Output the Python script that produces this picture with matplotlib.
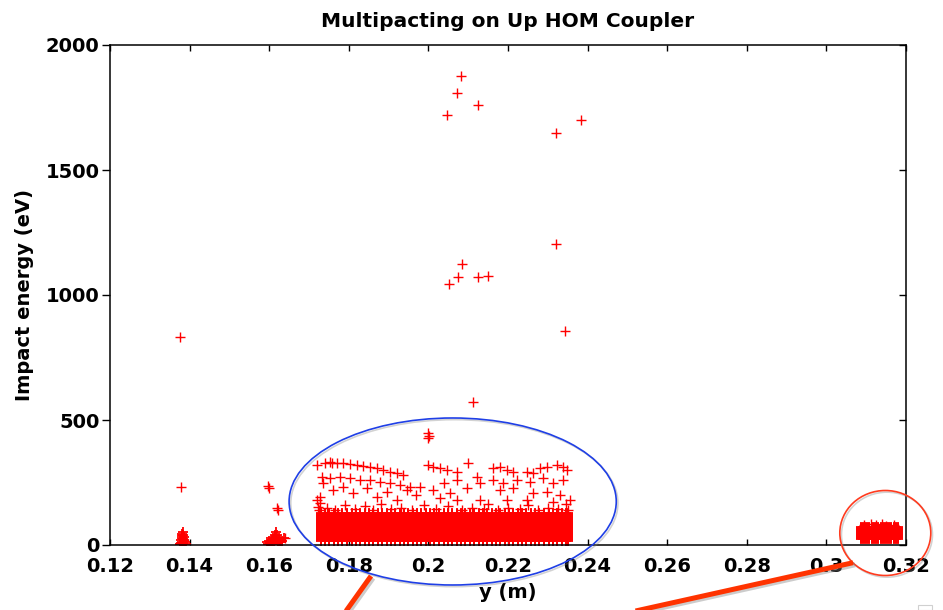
import matplotlib
matplotlib.use("Agg")
import numpy as np
import matplotlib.pyplot as plt
import matplotlib.patheffects as pe
from matplotlib.patches import Ellipse, Rectangle
from matplotlib.lines import Line2D

plt.rcParams['font.family'] = ['DejaVu Sans']
plt.rcParams['font.weight'] = 'bold'

# isolated high-energy impacts (y position in m, energy in eV)
spark_y = [0.1376, 0.1378, 0.2082, 0.2072, 0.2047, 0.2125, 0.2321, 0.2383,
           0.2321, 0.2084, 0.2074, 0.2052, 0.2125, 0.2150, 0.2343, 0.2113,
           0.1999, 0.1999, 0.2001, 0.1597, 0.1600, 0.1619, 0.1622, 0.1640]
spark_e = [832, 232, 1876, 1808, 1720, 1760, 1648, 1700,
           1206, 1124, 1072, 1044, 1072, 1076, 855, 573,
           447, 428, 438, 235, 229, 150, 140, 28]

# small clusters at the left end
left_y = [0.1378, 0.1381, 0.1384, 0.1388, 0.1379, 0.1383, 0.1387, 0.1380,
          0.1385, 0.1382, 0.1383, 0.1390, 0.1377, 0.1386, 0.1380, 0.1384]
left_e = [10, 12, 9, 11, 22, 24, 20, 35, 33, 46, 54, 6, 4, 16, 28, 40]

mid_y = [0.1594, 0.1600, 0.1606, 0.1610, 0.1614, 0.1617, 0.1620, 0.1624,
         0.1628, 0.1632, 0.1603, 0.1612, 0.1622, 0.1636, 0.1598, 0.1618,
         0.1608, 0.1615, 0.1626, 0.1613]
mid_e = [12, 18, 22, 30, 42, 54, 40, 30, 22, 15, 8, 10, 8, 30, 6, 20,
         14, 32, 14, 24]

# upper, sparse part of the main region
upper_y = [0.1719, 0.1740, 0.1753, 0.1732, 0.1736, 0.1728, 0.1719, 0.1723,
           0.1757, 0.1770, 0.1786, 0.1803, 0.1820, 0.1836, 0.1853, 0.1870,
           0.1887, 0.1904, 0.1920, 0.1937,
           0.1753, 0.1778, 0.1803, 0.1828, 0.1853, 0.1878, 0.1903, 0.1929,
           0.1954, 0.1979,
           0.1761, 0.1786, 0.1811, 0.1845, 0.1870, 0.1895, 0.1920, 0.1945, 0.1970,
           0.1999, 0.2012, 0.2029, 0.2046, 0.2071, 0.2100, 0.2121, 0.2130,
           0.2071, 0.2038, 0.2012, 0.2054, 0.2096, 0.2130, 0.2071, 0.2029,
           0.2163, 0.2180, 0.2197, 0.2213, 0.2247, 0.2264, 0.2280, 0.2297,
           0.2322, 0.2339, 0.2347, 0.2163, 0.2188, 0.2222, 0.2255, 0.2289,
           0.2314, 0.2339, 0.2356, 0.2180, 0.2213, 0.2264, 0.2297, 0.2331,
           0.2197, 0.2247, 0.2314,
           0.1745, 0.1790, 0.1840, 0.1880, 0.1930, 0.1990, 0.2050, 0.2110,
           0.2150, 0.2200, 0.2250, 0.2300, 0.2345,
           0.1725, 0.1727, 0.1765, 0.1815, 0.1860, 0.1905, 0.1960, 0.2020,
           0.2085, 0.2140, 0.2175, 0.2230, 0.2275, 0.2325, 0.2350]
upper_e = [320, 327, 333, 273, 247, 193, 180, 153,
           329, 329, 327, 324, 320, 316, 313, 307,
           300, 293, 287, 280,
           267, 271, 267, 260, 260, 253, 247, 240,
           233, 231,
           220, 233, 207, 227, 193, 213, 180, 220, 200,
           320, 313, 307, 300, 293, 327, 273, 247,
           260, 247, 220, 207, 227, 180, 180, 187,
           307, 313, 300, 293, 293, 287, 307, 313,
           320, 313, 300, 260, 247, 260, 253, 267,
           247, 260, 180, 220, 227, 207, 213, 200,
           180, 180, 173,
           150, 160, 155, 165, 150, 160, 155, 150,
           165, 150, 160, 150, 165,
           140, 170, 142, 145, 140, 144, 140, 143,
           141, 145, 140, 146, 141, 144, 140]

# dense low-energy band of the main region
band_y = [0.1730, 0.1741, 0.1751, 0.1763, 0.1774, 0.1784, 0.1796, 0.1807,
          0.1817, 0.1829, 0.1840, 0.1850, 0.1862, 0.1873, 0.1883, 0.1895,
          0.1906, 0.1916, 0.1928, 0.1939, 0.1949, 0.1961, 0.1972, 0.1982,
          0.1994, 0.2005, 0.2015, 0.2027, 0.2038, 0.2048, 0.2060, 0.2071,
          0.2081, 0.2093, 0.2104, 0.2114, 0.2126, 0.2137, 0.2147, 0.2159,
          0.2170, 0.2180, 0.2192, 0.2203, 0.2213, 0.2225, 0.2236, 0.2246,
          0.2258, 0.2269, 0.2279, 0.2291, 0.2302, 0.2312, 0.2324, 0.2335,
          0.2345, 0.2352]
band_e = [16, 20, 24, 28, 32, 36, 40, 44, 48, 52, 56, 60, 64, 68, 72, 76,
          80, 84, 88, 92, 96, 100, 104, 108, 112, 116, 120, 124, 128]

# cluster near the far end
end_y = [0.3086, 0.3092, 0.3097, 0.3103, 0.3108, 0.3114, 0.3119, 0.3125,
         0.3130, 0.3136, 0.3141, 0.3147, 0.3152, 0.3158, 0.3163, 0.3169,
         0.3174, 0.3180]
end_e = [24, 28, 32, 36, 40, 44, 48, 52, 56, 60, 64, 68, 72]
end_top_y = [0.3095, 0.3112, 0.3125, 0.3140, 0.3150, 0.3170]
end_top_e = [80, 84, 82, 86, 78, 80]

xticks = [0.12, 0.14, 0.16, 0.18, 0.2, 0.22, 0.24, 0.26, 0.28, 0.3, 0.32]
xtick_labels = ['0.12', '0.14', '0.16', '0.18', '0.2', '0.22', '0.24',
                '0.26', '0.28', '0.3', '0.32']
yticks = [0, 500, 1000, 1500, 2000]

W, H = 943, 610
fig = plt.figure(figsize=(W / 100, H / 100), dpi=100)
ax = fig.add_axes([110 / W, 1 - 545 / H, 796 / W, 500 / H])

mk = dict(marker='+', color='#ff0000', markersize=6.5, markeredgewidth=1.0,
          linestyle='none')
dense = dict(mk, markeredgewidth=1.3)

by, be = np.meshgrid(band_y, band_e)
ey, ee = np.meshgrid(end_y, end_e)
ax.plot(by.ravel(), be.ravel(), **dense)
ax.plot(ey.ravel(), ee.ravel(), **dense)
ax.plot(end_top_y, end_top_e, **mk)
ax.plot(upper_y, upper_e, **mk)
ax.plot(left_y, left_e, **dense)
ax.plot(mid_y, mid_e, **dense)
ax.plot(spark_y, spark_e, **mk)

ax.set_xlim(0.12, 0.32)
ax.set_ylim(0, 2000)
ax.set_xticks(xticks)
ax.set_xticklabels(xtick_labels)
ax.set_yticks(yticks)

for s in ax.spines.values():
    s.set_linewidth(1.1)
ax.tick_params(axis='x', which='both', direction='in', top=True, length=4,
               width=1.0, labelsize=14, pad=9)
ax.tick_params(axis='y', which='both', direction='out', length=5.5,
               width=1.0, labelsize=14, pad=2, right=True)
# right-hand ticks point inward
for tk in ax.yaxis.get_major_ticks():
    tk.tick2line.set_marker(0)
    tk.tick2line.set_markersize(5)

ax.set_title('Multipacting on Up HOM Coupler', fontsize=14.5,
             fontweight='bold', pad=13)
ax.set_xlabel('y (m)', fontsize=14, fontweight='bold', labelpad=5)
ax.set_ylabel('Impact energy (eV)', fontsize=14, fontweight='bold',
              labelpad=8)

shadow = [pe.SimpleLineShadow(offset=(1.2, -1.2), shadow_color='gray',
                              alpha=0.35), pe.Normal()]

blue = Ellipse((0.2061, 174), 0.0822, 668, fill=False, edgecolor='#1f3fe6',
               linewidth=1.2, clip_on=False, zorder=5)
blue.set_path_effects(shadow)
ax.add_patch(blue)

ring = Ellipse((0.3148, 48), 0.02286, 340, fill=False, edgecolor='#ff3b1f',
               linewidth=1.2, clip_on=False, zorder=5)
ring.set_path_effects(shadow)
ax.add_patch(ring)

# pointer strokes running off the bottom edge
for (x0, y0), (x1, y1) in [((339.6, 620), (371, 576)),
                           ((595, 620), (853, 562.7))]:
    ln = Line2D([x0 / W, x1 / W], [1 - y0 / H, 1 - y1 / H],
                transform=fig.transFigure, color='#ff3300', linewidth=3.6,
                solid_capstyle='butt', zorder=6)
    ln.set_path_effects([pe.SimpleLineShadow(offset=(1.5, -1.5),
                                             shadow_color='gray', alpha=0.4),
                         pe.Normal()])
    fig.add_artist(ln)

fig.add_artist(Rectangle((918 / W, 1 - 610 / H), 14 / W, 5 / H,
                         transform=fig.transFigure, fill=False,
                         edgecolor='#d0d0d0', linewidth=0.8))

fig.savefig('out.png', dpi=100)
